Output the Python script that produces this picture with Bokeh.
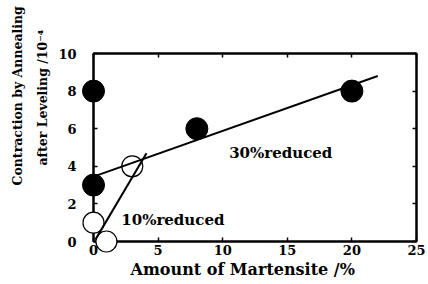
from bokeh.plotting import figure
from bokeh.models import Range1d, LinearAxis, Label, FixedTicker, Title
from bokeh.embed import file_html
from bokeh.resources import INLINE

# data
filled_x = [0, 0, 8, 20]
filled_y = [8, 3, 6, 8]
open_x = [0, 1, 3]
open_y = [1, 0, 4]
fit30_x = [0, 22]
fit30_y = [3.45, 8.8]
fit10_x = [0.15, 4.1]
fit10_y = [0.1, 4.7]
x_ticks = [0, 5, 10, 15, 20, 25]
y_ticks = [0, 2, 4, 6, 8, 10]

FONT = "DejaVu Serif"

p = figure(width=428, height=284, output_backend="svg", toolbar_location=None,
           x_range=Range1d(0, 25), y_range=Range1d(0, 10),
           min_border_left=93, min_border_right=12, min_border_top=53, min_border_bottom=43,
           x_axis_location=None, y_axis_location=None)
p.grid.visible = False
p.background_fill_color = "white"
p.border_fill_color = "white"
p.outline_line_color = "black"
p.outline_line_width = 2

def style_axis(ax, ticks, labels=True):
    ax.ticker = FixedTicker(ticks=ticks)
    ax.axis_line_color = "black"
    ax.axis_line_width = 2
    ax.major_tick_in = 4
    ax.major_tick_out = 0
    ax.minor_tick_line_color = None
    ax.major_tick_line_width = 1.5
    ax.major_label_text_font = FONT
    ax.major_label_text_font_style = "bold"
    ax.major_label_text_font_size = "13px"
    ax.major_label_text_color = "black"
    if not labels:
        ax.major_label_text_font_size = "0px"
        ax.major_label_text_color = None

bx = LinearAxis(); lx = LinearAxis(); tx = LinearAxis(); rx = LinearAxis()
style_axis(bx, x_ticks); style_axis(tx, x_ticks, False)
style_axis(lx, y_ticks); style_axis(rx, y_ticks, False)
bx.major_label_standoff = 3
lx.major_label_standoff = 17
p.add_layout(bx, "below")
p.add_layout(lx, "left")
p.add_layout(tx, "above")
p.add_layout(rx, "right")

p.scatter(open_x, open_y, size=21, marker="circle", fill_color="white",
          line_color="black", line_width=1.2, level="overlay")
p.scatter(filled_x, filled_y, size=22, marker="circle", fill_color="black",
          line_color="black", level="overlay")
p.line(fit30_x, fit30_y, line_color="black", line_width=2, level="overlay")
p.line(fit10_x, fit10_y, line_color="black", line_width=2, level="overlay")

def lab(x, y, t, size="15px"):
    p.add_layout(Label(x=x, y=y, text=t, text_font=FONT, text_font_style="bold",
                       text_font_size=size, text_color="black",
                       text_align="left", text_baseline="middle"))

lab(10.5, 4.7, "30%reduced")
lab(2.15, 1.15, "10%reduced")

def title(t, side, offset, size, standoff):
    p.add_layout(Title(text=t, align="left", offset=offset, standoff=standoff,
                       text_font=FONT, text_font_style="bold", text_font_size=size,
                       text_color="black"), side)

title("Amount of Martensite /%", "below", 37, "16px", 0)
title("after Leveling /10\u207b\u2074", "left", 76, "12.5px", 12)
title("Contraction by Annealing", "left", 56, "12.5px", 3)

open("out.html", "w").write(file_html(p, INLINE))
